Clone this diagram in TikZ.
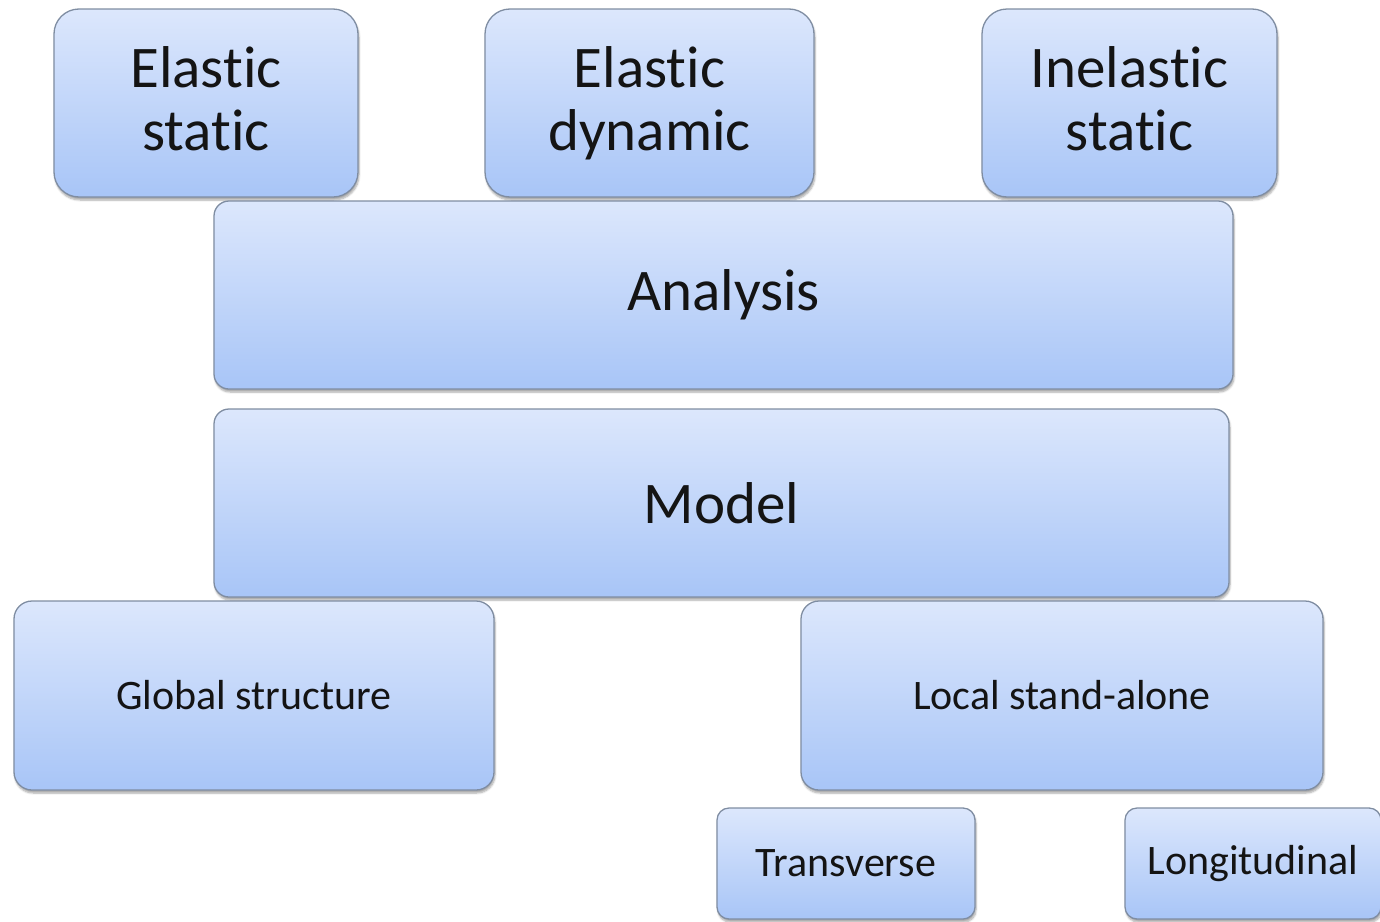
\documentclass[tikz,border=0pt]{standalone}
\usepackage{fontspec}
\setmainfont{Carlito}[Ligatures=NoCommon]
\usetikzlibrary{shadows.blur}
\definecolor{boxtop}{HTML}{DCE7FC}
\definecolor{boxbot}{HTML}{A8C5F7}
\definecolor{boxline}{HTML}{7F8DA2}
\tikzset{
  box/.style={draw=boxline, line width=1.3pt, top color=boxtop, bottom color=boxbot,
    align=center, inner sep=0pt, text=black!92,
    blur shadow={shadow xshift=1pt, shadow yshift=-3pt, shadow blur steps=6, shadow opacity=35}},
  bigtext/.style={font=\fontsize{59}{63}\selectfont},
  smalltext/.style={font=\fontsize{42}{48}\selectfont},
}
\begin{document}
\begin{tikzpicture}[x=1pt,y=-1pt]
\useasboundingbox (0,0) rectangle (1380,921);
\clip (0,0) rectangle (1380,921);
% analysis types
\node[box, bigtext, rounded corners=25pt, minimum width=304pt, minimum height=188pt] (es) at (206,103) {Elastic\\static\vphantom{y}};
\node[box, bigtext, rounded corners=25pt, minimum width=329pt, minimum height=188pt] (ed) at (649.5,103) {Elastic\\dynamic};
\node[box, bigtext, rounded corners=25pt, minimum width=295pt, minimum height=188pt] (is) at (1129.5,103) {Inelastic\\static\vphantom{y}};
% main layers
\node[box, bigtext, rounded corners=15pt, minimum width=1019pt, minimum height=188pt] (an) at (723.5,295) {Analysis};
\node[box, bigtext, rounded corners=15pt, minimum width=1015pt, minimum height=188pt] (mo) at (721.5,503) {Model};
% model scope
\node[box, smalltext, rounded corners=18pt, minimum width=480pt, minimum height=189pt] (gs) at (254,695.5) {Global structure};
\node[box, smalltext, rounded corners=18pt, minimum width=522pt, minimum height=189pt] (ls) at (1062,695.5) {Local stand-alone};
% local directions
\node[box, smalltext, rounded corners=12pt, minimum width=258pt, minimum height=111pt] (tr) at (846,863.5) {Transverse};
\node[box, smalltext, rounded corners=12pt, minimum width=256pt, minimum height=111pt] (lo) at (1253,863.5) {Longitudinal};
\end{tikzpicture}
\end{document}
